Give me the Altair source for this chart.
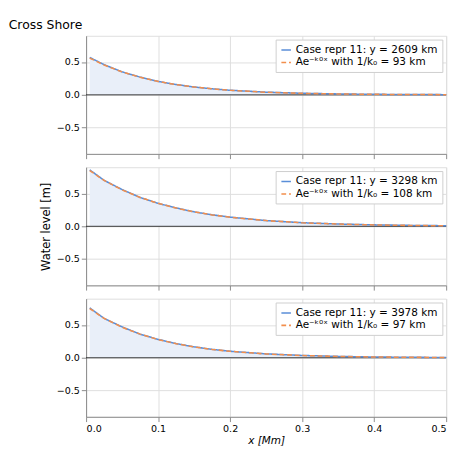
import pandas as pd
import altair as alt

x_vals = [0.005, 0.025, 0.05, 0.075, 0.1, 0.125, 0.15, 0.175, 0.2, 0.25, 0.3, 0.35, 0.4, 0.45, 0.5]

case_y = ["2609", "3298", "3978"]
fit_len = ["93", "108", "97"]

case_vals = [
    [0.57, 0.46, 0.35, 0.27, 0.205, 0.157, 0.12, 0.092, 0.07, 0.041, 0.024, 0.014, 0.008, 0.005, 0.003],
    [0.86, 0.70, 0.56, 0.44, 0.35, 0.28, 0.22, 0.175, 0.14, 0.087, 0.055, 0.035, 0.022, 0.014, 0.009],
    [0.76, 0.60, 0.47, 0.36, 0.28, 0.216, 0.166, 0.128, 0.099, 0.059, 0.035, 0.021, 0.012, 0.007, 0.004],
]
fit_vals = [
    [0.56, 0.455, 0.35, 0.268, 0.204, 0.156, 0.119, 0.091, 0.069, 0.040, 0.023, 0.0135, 0.008, 0.0045, 0.003],
    [0.85, 0.70, 0.555, 0.44, 0.35, 0.278, 0.22, 0.174, 0.138, 0.087, 0.054, 0.034, 0.021, 0.013, 0.008],
    [0.75, 0.60, 0.465, 0.36, 0.278, 0.215, 0.165, 0.127, 0.098, 0.058, 0.034, 0.020, 0.012, 0.007, 0.004],
]

blue = "#5a8ed8"
orange = "#f28e4c"
W, H = 378, 124


def panel(i):
    lab1 = f"Case repr 11: y = {case_y[i]} km"
    lab2 = f"Ae⁻ᵏ⁰ˣ with 1/k₀ = {fit_len[i]} km"
    case = pd.DataFrame({"x": x_vals, "v": case_vals[i], "s": lab1})
    fit = pd.DataFrame({"x": x_vals, "v": fit_vals[i], "s": lab2})
    both = pd.concat([case, fit])
    last = i == 2
    xax = alt.Axis(title="x [Mm]" if last else None, labels=last, values=[0, 0.1, 0.2, 0.3, 0.4, 0.5],
                   format=".1f", titleFontStyle="italic", titleFontWeight="normal", titlePadding=2)
    yax = alt.Axis(title="Water level [m]" if i == 1 else None, values=[-0.5, 0, 0.5], format=".1f",
                   titleFontSize=12, titleFontWeight="normal", titlePadding=4)
    xs = alt.Scale(domain=[0, 0.5], nice=False)
    ys = alt.Scale(domain=[-0.9, 0.9], nice=False)
    area = alt.Chart(case).mark_area(color="#e9eff9", opacity=1).encode(
        x=alt.X("x:Q", scale=xs, axis=xax), y=alt.Y("v:Q", scale=ys, axis=yax), y2=alt.datum(0))
    zero = alt.Chart(pd.DataFrame({"z": [0]})).mark_rule(color="black", strokeWidth=0.8).encode(y="z:Q")
    lines = alt.Chart(both).mark_line(strokeWidth=1.6).encode(
        x="x:Q", y="v:Q",
        color=alt.Color("s:N", scale=alt.Scale(domain=[lab1, lab2], range=[blue, orange]),
                        legend=alt.Legend(title=None, orient="top-right", offset=4, fillColor="white",
                                          strokeColor="#cccccc", padding=5, labelFontSize=11,
                                          symbolType="stroke", symbolStrokeWidth=1.6)),
        strokeDash=alt.StrokeDash("s:N", scale=alt.Scale(domain=[lab1, lab2], range=[[1, 0], [5, 3]]), legend=None),
    )
    ch = alt.layer(area, zero, lines).properties(width=W, height=H)
    if i == 0:
        ch = ch.properties(title=alt.TitleParams("Cross Shore", anchor="start", fontSize=13,
                                                 fontWeight="normal", offset=4, dx=-50))
    return ch


chart = alt.vconcat(*[panel(i) for i in range(3)], spacing=7).resolve_scale(
    color="independent", strokeDash="independent"
).configure_axis(
    grid=True, gridColor="#b0b0b0", domainColor="black", tickColor="black",
    labelColor="black", labelFontSize=10, titleColor="black"
).configure_view(stroke="black").configure(font="DejaVu Sans").properties(
    padding={"left": 0, "top": 0, "right": 0, "bottom": 0})

chart.save("out.html", embed_options={"renderer": "svg", "actions": False})
